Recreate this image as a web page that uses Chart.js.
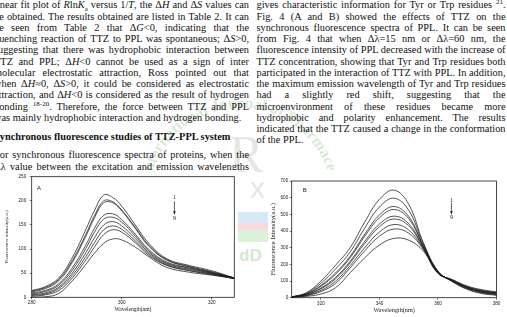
<!DOCTYPE html>
<html>
<head>
<meta charset="utf-8">
<script src="https://cdn.jsdelivr.net/npm/chart.js@4.4.0/dist/chart.umd.min.js"></script>
<style>
  html, body { margin: 0; padding: 0; width: 507px; height: 317px; overflow: hidden; background: #fff; }
  .mark { position: absolute; left: 0; top: 0; z-index: 0; pointer-events: none; }
  .col { position: absolute; z-index: 1; font-family: "Liberation Serif", "Times New Roman", serif; font-size: 10.35px; line-height: 11.25px; color: #111; }
  .col div { text-align: justify; text-align-last: justify; height: 11.25px; }
  .col div.last { text-align-last: left; }
  .col sub, .col sup { font-size: 7px; line-height: 0; }
  .col .head { font-weight: bold; text-align-last: left; }
  .chart { position: absolute; z-index: 2; background: #fff; }
</style>
</head>
<body>

<svg class="mark" width="507" height="317">
  <defs>
    <path id="ring" d="M 240,292 A 92,92 0 1,1 240,108 A 92,92 0 1,1 240,292"/>
  </defs>
  <text font-family="Liberation Serif" font-weight="bold" font-size="16" fill="#3f9a3f" opacity="0.2">
    <textPath href="#ring" startOffset="166">International Journal of Pharmaceutical Sciences</textPath>
  </text>
  <text x="229" y="172" font-family="Liberation Serif" font-size="52" fill="#777" opacity="0.18">R</text>
  <text x="250" y="198" font-family="Liberation Sans" font-size="30" fill="#777" opacity="0.18">x</text>
  <rect x="238" y="212" width="38" height="11" fill="#9fd0ec" opacity="0.45"/>
  <rect x="238" y="223" width="38" height="7" fill="#f0a0aa" opacity="0.4"/>
  <rect x="238" y="230" width="38" height="12" fill="#a8dca0" opacity="0.4"/>
  <text x="239" y="261" font-family="Liberation Sans" font-weight="bold" font-size="17" fill="#5fb85f" opacity="0.3">dD</text>
</svg>

<div class="col" style="left:-6px; top:-0.6px; width:255px;">
  <div>linear fit plot of <i>R</i>ln<i>K</i><sub>a</sub> versus 1/<i>T</i>, the &Delta;<i>H</i> and &Delta;<i>S</i> values can</div>
  <div>be obtained. The results obtained are listed in Table 2. It can</div>
  <div>be seen from Table 2 that &Delta;<i>G</i>&lt;0, indicating that the</div>
  <div>quenching reaction of TTZ to PPL was spontaneous; &Delta;<i>S</i>&gt;0,</div>
  <div>suggesting that there was hydrophobic interaction between</div>
  <div>TTZ and PPL; &Delta;<i>H</i>&lt;0 cannot be used as a sign of inter</div>
  <div>molecular electrostatic attraction, Ross pointed out that</div>
  <div>when &Delta;<i>H</i>&asymp;0, &Delta;<i>S</i>&gt;0, it could be considered as electrostatic</div>
  <div>attraction, and &Delta;<i>H</i>&lt;0 is considered as the result of hydrogen</div>
  <div>bonding <sup>18-20</sup>. Therefore, the force between TTZ and PPL</div>
  <div class="last">was mainly hydrophobic interaction and hydrogen bonding.</div>
</div>
<div class="col" style="left:-6px; top:131.1px; width:255px;">
  <div class="head">Synchronous fluorescence studies of TTZ-PPL system</div>
</div>
<div class="col" style="left:-6px; top:149.4px; width:255px;">
  <div>For synchronous fluorescence spectra of proteins, when the</div>
  <div>&Delta;&lambda; value between the excitation and emission wavelengths</div>
</div>

<div class="col" style="left:256.5px; top:-0.6px; width:249px;">
  <div>gives characteristic information for Tyr or Trp residues <sup>21</sup>.</div>
  <div>Fig. 4 (A and B) showed the effects of TTZ on the</div>
  <div>synchronous fluorescence spectra of PPL. It can be seen</div>
  <div>from Fig. 4 that when &Delta;&lambda;=15 nm or &Delta;&lambda;=60 nm, the</div>
  <div>fluorescence intensity of PPL decreased with the increase of</div>
  <div>TTZ concentration, showing that Tyr and Trp residues both</div>
  <div>participated in the interaction of TTZ with PPL. In addition,</div>
  <div>the maximum emission wavelength of Tyr and Trp residues</div>
  <div>had a slightly red shift, suggesting that the</div>
  <div>microenvironment of these residues became more</div>
  <div>hydrophobic and polarity enhancement. The results</div>
  <div>indicated that the TTZ caused a change in the conformation</div>
  <div class="last">of the PPL.</div>
</div>

<canvas id="chartA" class="chart" width="238" height="147" style="left:0px; top:170px;"></canvas>
<canvas id="chartB" class="chart" width="239" height="147" style="left:268px; top:170px;"></canvas>

<script>
// Fig. 4A: synchronous spectra, delta lambda = 15 nm (curves 1 -> 9)
const wavelengthsA = [280, 283, 286, 289, 292, 294, 296, 298, 300, 303, 306, 310, 315, 320, 325];
const intensityA1 = [14, 22, 40, 82, 140, 181, 212, 207, 189, 150, 112, 80, 66, 55, 40];
const intensityA2 = [13, 20, 37, 76, 130, 170, 200, 198, 181, 145, 108, 78, 64, 53, 40];
const intensityA3 = [11, 18, 34, 72, 126, 166, 196, 196, 179, 143, 106, 77, 63, 52, 40];
const intensityA4 = [9, 14, 28, 61, 108, 144, 170, 173, 161, 131, 99, 73, 61, 51, 40];
const intensityA5 = [7, 12, 25, 56, 101, 136, 162, 166, 156, 127, 96, 71, 60, 50, 40];
const intensityA6 = [5, 9, 21, 50, 92, 124, 150, 157, 148, 122, 93, 69, 58, 49, 39];
const intensityA7 = [4, 7, 18, 45, 84, 114, 140, 148, 141, 117, 90, 67, 56, 48, 39];
const intensityA8 = [2, 5, 14, 40, 77, 105, 130, 140, 135, 113, 87, 66, 55, 47, 39];
const intensityA9 = [0, 1, 8, 34, 68, 92, 112, 121, 119, 104, 84, 62, 52, 46, 39];
const xTicksA = [280, 300, 320];
const yTicksA = [0, 50, 100, 150, 200, 250];

// Fig. 4B: synchronous spectra, delta lambda = 60 nm (curves 1 -> 9)
const wavelengthsB = [310, 315, 320, 325, 330, 335, 340, 345, 350, 355, 360, 365, 370, 375, 380];
const intensityB1 = [5, 30, 100, 195, 300, 455, 590, 645, 560, 330, 160, 95, 50, 25, 14];
const intensityB2 = [5, 26, 87, 172, 275, 419, 544, 597, 524, 322, 157, 97, 53, 29, 18];
const intensityB3 = [4, 23, 74, 149, 249, 382, 497, 547, 487, 313, 155, 99, 57, 33, 21];
const intensityB4 = [4, 21, 69, 141, 240, 369, 480, 529, 474, 310, 154, 100, 58, 34, 22];
const intensityB5 = [3, 18, 58, 122, 219, 339, 442, 489, 444, 303, 152, 102, 61, 37, 25];
const intensityB6 = [3, 17, 53, 114, 210, 326, 426, 472, 431, 300, 151, 103, 62, 39, 27];
const intensityB7 = [3, 14, 44, 99, 193, 301, 394, 439, 406, 294, 149, 104, 64, 41, 29];
const intensityB8 = [3, 12, 37, 86, 179, 282, 369, 412, 387, 290, 148, 105, 66, 44, 31];
const intensityB9 = [2, 8, 22, 60, 150, 240, 316, 356, 345, 280, 145, 108, 70, 48, 35];
const xTicksB = [320, 340, 360, 380];
const yTicksB = [0, 100, 200, 300, 400, 500, 600, 700];

const seriesA = [intensityA1, intensityA2, intensityA3, intensityA4, intensityA5, intensityA6, intensityA7, intensityA8, intensityA9];
const seriesB = [intensityB1, intensityB2, intensityB3, intensityB4, intensityB5, intensityB6, intensityB7, intensityB8, intensityB9];

const ink = '#1c1c1c';

const framePlugin = {
    id: 'frame',
    afterDraw(chart) {
        const { ctx, chartArea: a } = chart;
        ctx.save();
        ctx.strokeStyle = ink;
        ctx.lineWidth = 0.8;
        ctx.strokeRect(a.left, a.top, a.right - a.left, a.bottom - a.top);
        ctx.restore();
    }
};

// panel letter and the "1 -> 9" arrow, placed in data units
const notesPlugin = {
    id: 'notes',
    afterDraw(chart, args, opts) {
        const { ctx, scales: { x, y } } = chart;
        ctx.save();
        ctx.fillStyle = ink;
        ctx.strokeStyle = ink;
        ctx.textAlign = 'center';
        ctx.textBaseline = 'middle';
        opts.labels.forEach((item) => {
            ctx.font = item.font;
            ctx.fillText(item.text, x.getPixelForValue(item.x), y.getPixelForValue(item.y));
        });
        const ax = x.getPixelForValue(opts.arrow.x);
        const y1 = y.getPixelForValue(opts.arrow.from);
        const y2 = y.getPixelForValue(opts.arrow.to);
        ctx.lineWidth = 0.7;
        ctx.beginPath();
        ctx.moveTo(ax, y1);
        ctx.lineTo(ax, y2);
        ctx.stroke();
        ctx.beginPath();
        ctx.moveTo(ax - 1.4, y2 - 3);
        ctx.lineTo(ax + 1.4, y2 - 3);
        ctx.lineTo(ax, y2);
        ctx.closePath();
        ctx.fill();
        ctx.restore();
    }
};

function fixedTicks(values) {
    return (scale) => {
        scale.ticks = values.map((v) => ({ value: v }));
    };
}

function drawPanel(id, cfg) {
    const datasets = cfg.series.map((values, i) => ({
        label: String(i + 1),
        data: values.map((v, j) => ({ x: cfg.wavelengths[j], y: v })),
        borderColor: ink,
        borderWidth: 0.75,
        pointRadius: 0,
        tension: 0.4,
        fill: false
    }));

    return new Chart(document.getElementById(id), {
        type: 'line',
        data: { datasets },
        plugins: [framePlugin, notesPlugin],
        options: {
            responsive: false,
            animation: false,
            devicePixelRatio: 1,
            events: [],
            layout: { padding: cfg.padding },
            plugins: {
                legend: { display: false },
                tooltip: { enabled: false },
                notes: cfg.notes
            },
            scales: {
                x: {
                    type: 'linear',
                    min: cfg.xMin,
                    max: cfg.xMax,
                    afterBuildTicks: fixedTicks(cfg.xTicks),
                    afterFit: (scale) => { scale.height = cfg.xHeight; },
                    grid: { drawOnChartArea: false, drawTicks: true, tickLength: 2, color: ink, lineWidth: 0.6 },
                    border: { display: false },
                    ticks: { font: { family: 'Liberation Sans', size: 4.6 }, color: '#222', padding: 1, maxRotation: 0 },
                    title: { display: true, text: 'Wavelength(nm)', font: { family: 'Liberation Serif', size: cfg.xTitleSize }, color: '#222', padding: { top: 0, bottom: cfg.xTitlePad } }
                },
                y: {
                    min: 0,
                    max: cfg.yMax,
                    afterBuildTicks: fixedTicks(cfg.yTicks),
                    afterFit: (scale) => { scale.width = cfg.yWidth; },
                    grid: { drawOnChartArea: false, drawTicks: true, tickLength: 2, color: ink, lineWidth: 0.6 },
                    border: { display: false },
                    ticks: { font: { family: 'Liberation Sans', size: 4.6 }, color: '#222', padding: cfg.yTickPad },
                    title: { display: true, text: cfg.yTitle, font: { family: 'Liberation Serif', size: cfg.yTitleSize }, color: '#222', padding: { top: cfg.yTitlePad, bottom: 0 } }
                }
            }
        }
    });
}

drawPanel('chartA', {
    wavelengths: wavelengthsA,
    series: seriesA,
    xMin: 280, xMax: 325, xTicks: xTicksA,
    yMax: 250, yTicks: yTicksA,
    padding: { left: 0, top: 6.7, right: 3.7, bottom: 0 },
    yWidth: 31.7, xHeight: 19.7,
    yTickPad: 3.5,
    yTitle: 'Fluorescence intensity(a.u.)', yTitleSize: 4.8, yTitlePad: 4,
    xTitleSize: 5.5, xTitlePad: 3.7,
    notes: {
        labels: [
            { text: 'A', x: 281.6, y: 226, font: '6px "Liberation Sans"' },
            { text: '1', x: 311.7, y: 207, font: '6px "Liberation Serif"' },
            { text: '9', x: 311.7, y: 163, font: '6px "Liberation Serif"' }
        ],
        arrow: { x: 311.7, from: 199, to: 172 }
    }
});

drawPanel('chartB', {
    wavelengths: wavelengthsB,
    series: seriesB,
    xMin: 310, xMax: 380, xTicks: xTicksB,
    yMax: 700, yTicks: yTicksB,
    padding: { left: 0, top: 11, right: 10.5, bottom: 0 },
    yWidth: 23.7, xHeight: 19.3,
    yTickPad: 1.5,
    yTitle: 'Fluorescence Intensity(a.u.)', yTitleSize: 6.5, yTitlePad: 1,
    xTitleSize: 6.2, xTitlePad: 3.1,
    notes: {
        labels: [
            { text: 'B', x: 314.5, y: 642, font: '6px "Liberation Sans"' },
            { text: '1', x: 364.6, y: 586, font: '6px "Liberation Serif"' },
            { text: '9', x: 364.6, y: 482, font: '6px "Liberation Serif"' }
        ],
        arrow: { x: 364.6, from: 570, to: 500 }
    }
});
</script>
</body>
</html>
